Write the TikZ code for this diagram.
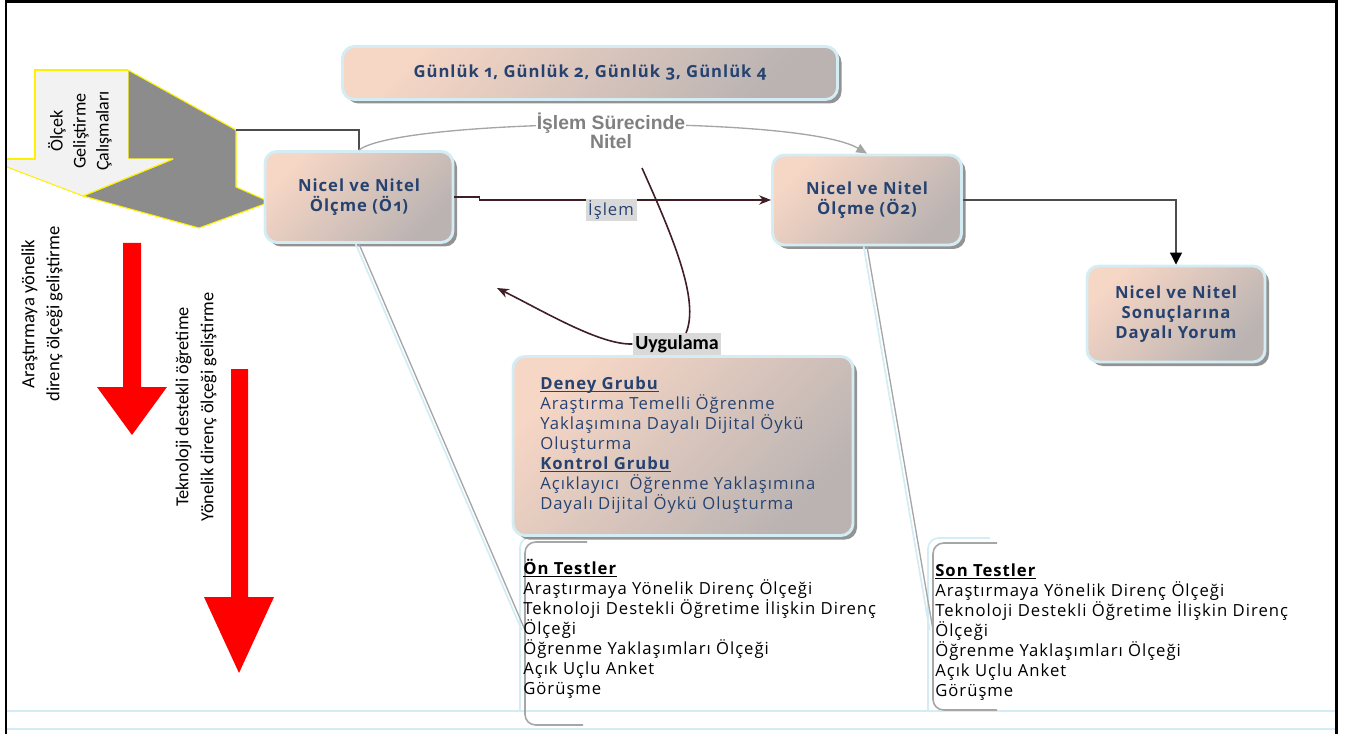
\documentclass[tikz,border=0pt]{standalone}
\usepackage{fontspec}
\setmainfont{Open Sans}[Numbers=OldStyle, LetterSpace=6]
\newfontfamily\calfont{Carlito}
\newfontfamily\arfont{Liberation Sans}
\usetikzlibrary{arrows.meta,shadows,calc}

\definecolor{txtblue}{RGB}{38,66,112}
\definecolor{peach}{RGB}{246,214,197}
\definecolor{taupe}{RGB}{186,179,178}
\definecolor{rimcyan}{RGB}{212,237,244}
\definecolor{wine}{RGB}{64,30,38}
\definecolor{facegray}{RGB}{242,242,242}
\definecolor{sidegray}{RGB}{140,140,140}
\definecolor{edgeyellow}{RGB}{255,240,0}
\definecolor{tagbg}{RGB}{217,217,217}
\definecolor{arcgray}{RGB}{165,165,165}
\definecolor{surecgray}{RGB}{128,128,128}

% underlined heading with the rule just under the baseline
\newsavebox\hdrbox
\newcommand\hdrline[1]{\sbox\hdrbox{#1}\leavevmode\rlap{\rule[-1.6pt]{\wd\hdrbox}{0.7pt}}\usebox\hdrbox}

\begin{document}
\begin{tikzpicture}[x=0.75pt,y=-0.75pt,
  panel/.style={rounded corners=9pt, draw=rimcyan, line width=2.2pt,
    top color=peach, bottom color=taupe, shading angle=45,
    drop shadow={shadow xshift=3pt, shadow yshift=-3pt, fill=black!50, opacity=.85},
    inner sep=0pt, text=txtblue, align=center,
    font=\bfseries\fontsize{12.5}{15}\selectfont},
  boxsize/.style n args={2}{minimum width=#1*0.75pt, minimum height=#2*0.75pt},
  tag/.style={fill=tagbg, inner xsep=2pt, inner ysep=1.5pt},
  sidetext/.style={rotate=90, align=center, text=black},
  listtext/.style={anchor=west, align=left, inner sep=0pt,
    font=\fontsize{12.5}{15}\selectfont},
  wineline/.style={draw=wine, line width=1.2pt},
  winearrow/.style={wineline, -{Stealth[length=9pt,width=7pt]}},
  arcline/.style={draw=arcgray, line width=1pt, -{Triangle[length=8pt,width=7pt]}},
  linkline/.style={draw=black!70, line width=0.9pt},
  rimline/.style={draw=rimcyan, line width=1.3pt},
  bracketline/.style={draw=black!35, line width=1.2pt, rounded corners=8pt},
  calloutline/.style={draw=black!35, line width=1pt},
  redarrow/.style={fill=red},
  frameline/.style={draw=black, line width=2.2pt}
]
\useasboundingbox (0,0) rectangle (1346,734);

% ---------- 3D bent block on the left ----------
\path[fill=sidegray, draw=edgeyellow, line width=0.8pt, line join=round]
  (128,70) -- (236,130) -- (236,187) -- (270,202) -- (199,228) -- (83,196)
  -- (173,159) -- (128,159) -- cycle;
\path[fill=facegray]
  (7,159) -- (35,159) -- (35,70) -- (128,70) -- (128,159) -- (173,159)
  -- (83,196) -- (7,167) -- cycle;
\draw[edgeyellow, line width=0.8pt] (7,159) -- (35,159) -- (35,70) -- (128,70);
\draw[edgeyellow, line width=0.8pt] (173,159) -- (83,196) -- (7,167);
\node[sidetext, font=\calfont\fontsize{13.5}{17.25}\selectfont] (shapelbl) at (80,131)
  {Ölçek\\Geliştirme\\Çalışmaları};
\coordinate (shapetip) at (236,130);

% ---------- red downward arrows with side captions ----------
\fill[redarrow] (123,243) -- (141,243) -- (141,387) -- (167,387) -- (132,435)
  -- (97,387) -- (123,387) -- cycle;
\fill[redarrow] (231,369) -- (248,369) -- (248,597) -- (274,597) -- (239,673)
  -- (204,597) -- (231,597) -- cycle;
\node[sidetext, font=\calfont\fontsize{14}{18.75}\selectfont] (t1) at (42,314)
  {Araştırmaya yönelik\\direnç ölçeği geliştirme};
\node[sidetext, font=\calfont\fontsize{13.75}{18.75}\selectfont] (t2) at (196,407)
  {Teknoloji destekli öğretime\\Yönelik direnç ölçeği geliştirme};

% ---------- bottom guide lines ----------
\draw[rimline] (7,711) -- (1335,711);
\draw[rimline] (7,729) -- (1335,729);

% ---------- test brackets ----------
\draw[rimline, rounded corners=8pt] (578,537) -- (520,537) -- (520,711);
\draw[bracketline] (587,542) -- (525,542) -- (525,725) -- (583,725);
\draw[rimline, rounded corners=8pt] (990,538) -- (928,538) -- (928,711);
\draw[bracketline] (997,543) -- (933,543) -- (933,710) -- (997,710);
\coordinate (onhook) at (525,630);
\coordinate (sonhook) at (933,630);

% ---------- boxes ----------
\node[panel, boxsize={495}{53}] (gun) at (590,73)
  {Günlük 1, Günlük 2, Günlük 3, Günlük 4};
\node[panel, boxsize={188}{91}] (o1) at (359,197) {Nicel ve Nitel\\Ölçme (Ö1)};
\node[panel, boxsize={189}{90}] (o2) at (867,200) {Nicel ve Nitel\\Ölçme (Ö2)};
\node[panel, boxsize={178}{96}] (yor) at (1176,314)
  {Nicel ve Nitel\\Sonuçlarına\\Dayalı Yorum};
\node[panel, boxsize={340}{179}] (uyg) at (683,446) {};
\node[listtext, text=txtblue] (uygtext) at (540,445)
  {\hdrline{\textbf{Deney Grubu}}\\
   Araştırma Temelli Öğrenme\\
   Yaklaşımına Dayalı Dijital Öykü\\
   Oluşturma\\
   \hdrline{\textbf{Kontrol Grubu}}\\
   Açıklayıcı\ \ Öğrenme Yaklaşımına\\
   Dayalı Dijital Öykü Oluşturma};

% ---------- callouts from the measurement boxes to the test lists ----------
\draw[rimline] ([xshift=-2.5pt]o1.south) -- ([xshift=-2.5pt]onhook);
\draw[calloutline] (o1.south) -- (onhook);
\draw[rimline] ([xshift=-2.5pt]o2.south) -- ([xshift=-2.5pt]sonhook);
\draw[calloutline] (o2.south) -- (sonhook);

\node[listtext, text=black] (ontest) at (523,629)
  {\hdrline{\textbf{Ön Testler}}\\
   Araştırmaya Yönelik Direnç Ölçeği\\
   Teknoloji Destekli Öğretime İlişkin Direnç\\
   Ölçeği\\
   Öğrenme Yaklaşımları Ölçeği\\
   Açık Uçlu Anket\\
   Görüşme};
\node[listtext, text=black] (sontest) at (935,632)
  {\hdrline{\textbf{Son Testler}}\\
   Araştırmaya Yönelik Direnç Ölçeği\\
   Teknoloji Destekli Öğretime İlişkin Direnç\\
   Ölçeği\\
   Öğrenme Yaklaşımları Ölçeği\\
   Açık Uçlu Anket\\
   Görüşme};

% ---------- connectors ----------
\draw[linkline] (shapetip) -| (o1.north);
\draw[arcline] (o1.north) .. controls (400,118) and (800,114) .. (o2.north);
\node[fill=white, inner sep=1pt, align=center, text=surecgray,
      font=\arfont\bfseries\fontsize{14.5}{14.5}\selectfont] (surec) at (611,131)
  {İşlem Sürecinde\\Nitel};

\draw[winearrow] (o1.east) -- ++(25,0) |- (o2.west);
\node[tag, text=txtblue, font=\fontsize{12.5}{15}\selectfont] (islem) at (611,210) {İşlem};

\draw[linkline, -{Triangle[length=9pt,width=9pt,color=black]}] (o2.east) -| (yor.north);

\node[tag, text=black, font=\calfont\bfseries\fontsize{15}{18}\selectfont] (uyglbl) at (677,344) {Uygulama};
\coordinate (bendtop) at (642,168);
\coordinate (bendend) at (497,288);
\draw[wineline] (bendtop) .. controls (672,235) and (700,300) .. ([xshift=6.75pt]uyglbl.north);
\draw[winearrow] (uyglbl.west) .. controls (600,345) and (545,312) .. (bendend);

% ---------- frame ----------
\draw[frameline] (6,0) -- (6,734);
\draw[frameline] (5,1.2) -- (1337.5,1.2);
\draw[frameline] (1336.5,0) -- (1336.5,734);
\end{tikzpicture}
\end{document}
